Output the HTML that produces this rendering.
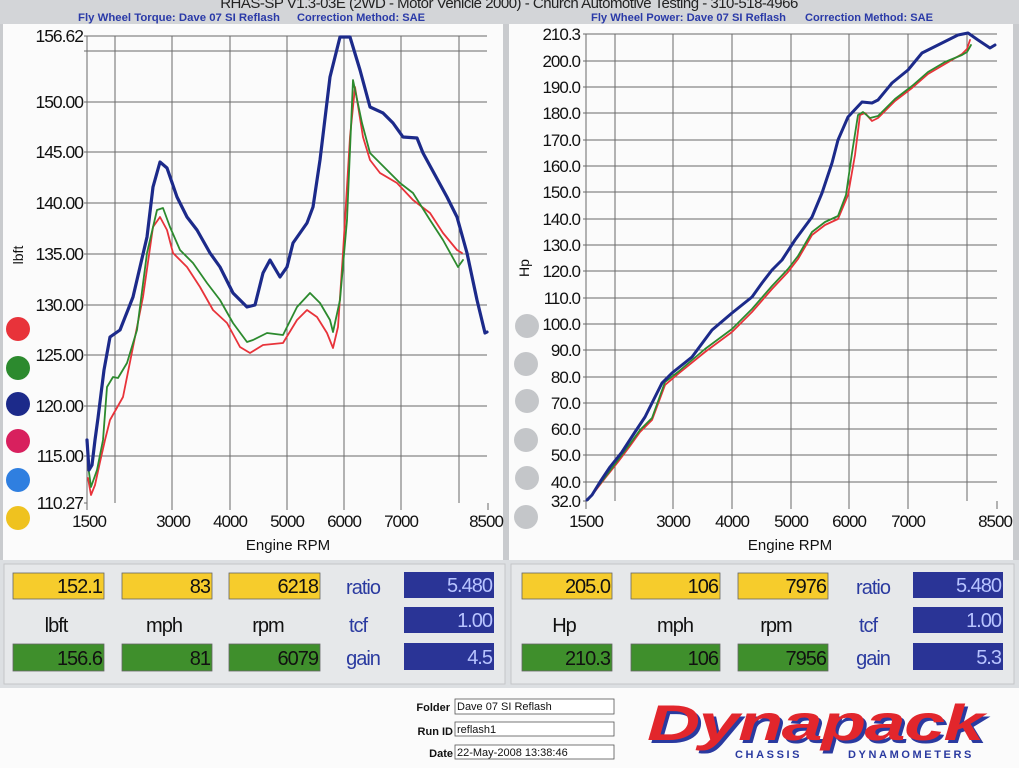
<!DOCTYPE html>
<html><head><meta charset="utf-8"><style>
html,body{margin:0;padding:0;background:#fff;}
svg{display:block;font-family:"Liberation Sans",Arial,sans-serif;}
</style></head><body>
<svg width="1019" height="768" viewBox="0 0 1019 768" xmlns="http://www.w3.org/2000/svg">
<rect x="0" y="0" width="1019" height="768" fill="#fdfdfd"/>
<!-- header band -->
<rect x="0" y="0" width="1019" height="24" fill="#d3d5d8"/>
<text x="509" y="8" font-size="15" text-anchor="middle" fill="#222" letter-spacing="-0.5">RHAS-SP V1.3-03E  (2WD - Motor Vehicle 2000) - Church Automotive Testing - 310-518-4966</text>
<g font-size="11" font-weight="bold" fill="#2a3aa8">
<text x="78" y="21" textLength="202" lengthAdjust="spacingAndGlyphs">Fly Wheel Torque: Dave 07 SI Reflash</text>
<text x="297" y="21" textLength="128" lengthAdjust="spacingAndGlyphs">Correction Method: SAE</text>
<text x="591" y="21" textLength="195" lengthAdjust="spacingAndGlyphs">Fly Wheel Power: Dave 07 SI Reflash</text>
<text x="805" y="21" textLength="128" lengthAdjust="spacingAndGlyphs">Correction Method: SAE</text>
</g>
<!-- panel frames -->
<rect x="0" y="24" width="3" height="536" fill="#c9cbce"/>
<rect x="503" y="24" width="6" height="536" fill="#c9cbce"/>
<rect x="1013" y="24" width="6" height="536" fill="#c9cbce"/>
<rect x="3" y="24" width="500" height="536" fill="#fbfbfb"/>
<rect x="509" y="24" width="504" height="536" fill="#fbfbfb"/>

<!-- LEFT GRID -->
<g stroke="#6a6a6a" stroke-width="1" fill="none">
<path d="M87,36V503 M115,36V503 M172,36V503 M230,36V503 M287,36V503 M344,36V503 M401,36V503 M459,36V503"/>
<path d="M84,36H487 M84,51H487 M84,102H487 M84,152H487 M84,203H487 M84,254H487 M84,305H487 M84,355H487 M84,406H487 M84,456H487 M84,503H87"/>
<path d="M87,503V510 M172,503V510 M230,503V510 M287,503V510 M344,503V510 M401,503V510 M488,503V510"/>
</g>
<g font-size="17.5" text-anchor="end" fill="#111" letter-spacing="-1">
<text x="83" y="42">156.62</text><text x="83" y="108">150.00</text><text x="83" y="158">145.00</text>
<text x="83" y="209">140.00</text><text x="83" y="260">135.00</text><text x="83" y="311">130.00</text>
<text x="83" y="361">125.00</text><text x="83" y="412">120.00</text><text x="83" y="462">115.00</text>
<text x="83" y="509">110.27</text>
</g>
<g font-size="17" text-anchor="middle" fill="#111" letter-spacing="-1">
<text x="89" y="527">1500</text><text x="173" y="527">3000</text><text x="230" y="527">4000</text>
<text x="287" y="527">5000</text><text x="344" y="527">6000</text><text x="401" y="527">7000</text>
<text x="486" y="527">8500</text>
<text x="288" y="550" font-size="15" letter-spacing="0">Engine RPM</text>
</g>
<text transform="translate(23,255) rotate(-90)" font-size="14" text-anchor="middle" fill="#111">lbft</text>
<g>
<circle cx="18" cy="329" r="12" fill="#e8333a"/>
<circle cx="18" cy="368" r="12" fill="#2c8a2e"/>
<circle cx="18" cy="404" r="12" fill="#1c2a8a"/>
<circle cx="18" cy="441" r="12" fill="#d8205e"/>
<circle cx="18" cy="480" r="12" fill="#2f7fe0"/>
<circle cx="18" cy="518" r="12" fill="#efc21f"/>
</g>
<!-- left curves -->
<g fill="none" stroke-linejoin="round" stroke-linecap="round">
<polyline stroke="#e8333a" stroke-width="1.8" points="88,478 91,495 95,485 100,462 105,440 110,420 123,397 133,347 143,297 153,227 160,217 167,230 173,253 187,267 200,287 213,310 227,323 240,347 250,353 263,345 283,343 297,320 307,310 317,317 327,333 333,348 338,327 343,253 350,137 355,87 363,137 370,160 380,173 397,183 413,200 430,213 443,233 457,250 462,253"/>
<polyline stroke="#2c8a2e" stroke-width="1.8" points="88,465 91,487 97,470 103,440 107,387 113,377 118,378 127,363 137,330 147,253 157,210 163,208 170,227 180,250 193,263 207,283 220,300 233,323 247,342 253,340 267,333 283,335 297,307 310,293 320,303 330,320 333,332 340,300 347,220 353,80 362,123 370,153 387,170 400,183 413,193 430,220 443,240 458,267 463,260"/>
<polyline stroke="#1c2a8a" stroke-width="3.2" points="87,440 89,470 92,465 95,440 98,418 104,370 110,337 120,330 133,297 147,237 153,187 160,162 167,168 177,197 187,217 197,230 210,253 220,267 233,293 247,307 255,305 263,273 270,260 280,277 287,267 293,243 307,223 313,207 320,160 330,77 340,37 350,37 360,70 370,107 383,113 393,123 403,137 417,138 423,153 447,197 457,217 467,253 477,300 485,333 487,332"/>
</g>

<!-- RIGHT GRID -->
<g stroke="#6a6a6a" stroke-width="1" fill="none">
<path d="M586,34V501 M615,34V501 M673,34V501 M732,34V501 M791,34V501 M849,34V501 M908,34V501 M967,34V501"/>
<path d="M583,34H997 M583,61H997 M583,87H997 M583,113H997 M583,140H997 M583,166H997 M583,192H997 M583,219H997 M583,245H997 M583,271H997 M583,298H997 M583,324H997 M583,350H997 M583,377H997 M583,403H997 M583,429H997 M583,455H997 M583,482H997 M583,501H586"/>
<path d="M586,501V509 M673,501V509 M732,501V509 M791,501V509 M849,501V509 M908,501V509 M997,501V509"/>
</g>
<g font-size="17" text-anchor="end" fill="#111" letter-spacing="-1">
<text x="580" y="40">210.3</text><text x="580" y="67">200.0</text><text x="580" y="93">190.0</text>
<text x="580" y="119">180.0</text><text x="580" y="146">170.0</text><text x="580" y="172">160.0</text>
<text x="580" y="198">150.0</text><text x="580" y="225">140.0</text><text x="580" y="251">130.0</text>
<text x="580" y="277">120.0</text><text x="580" y="304">110.0</text><text x="580" y="330">100.0</text>
<text x="580" y="356">90.0</text><text x="580" y="383">80.0</text><text x="580" y="409">70.0</text>
<text x="580" y="435">60.0</text><text x="580" y="461">50.0</text><text x="580" y="488">40.0</text>
<text x="580" y="507">32.0</text>
</g>
<g font-size="17" text-anchor="middle" fill="#111" letter-spacing="-1">
<text x="586" y="527">1500</text><text x="673" y="527">3000</text><text x="732" y="527">4000</text>
<text x="791" y="527">5000</text><text x="849" y="527">6000</text><text x="908" y="527">7000</text>
<text x="995" y="527">8500</text>
<text x="790" y="550" font-size="15" letter-spacing="0">Engine RPM</text>
</g>
<text transform="translate(529,268) rotate(-90)" font-size="14" text-anchor="middle" fill="#111">Hp</text>
<g fill="#c4c6c9">
<circle cx="527" cy="326" r="12"/><circle cx="526" cy="364" r="12"/><circle cx="527" cy="401" r="12"/>
<circle cx="526" cy="440" r="12"/><circle cx="527" cy="478" r="12"/><circle cx="526" cy="517" r="12"/>
</g>
<g fill="none" stroke-linejoin="round" stroke-linecap="round">
<polyline stroke="#e8333a" stroke-width="1.8" points="588,500 596,490 606,477 618,462 630,446 640,432 652,420 665,385 678,374 705,352 732,332 752,312 772,289 788,272 798,259 812,235 825,225 838,219 848,195 855,155 860,115 865,113 872,121 878,118 895,101 912,88 928,74 945,64 962,54 967,49 970,40"/>
<polyline stroke="#2c8a2e" stroke-width="1.8" points="588,500 596,489 606,476 618,460 630,444 640,430 652,418 665,382 678,372 705,349 732,329 752,309 772,286 788,269 798,256 812,232 825,222 838,216 846,195 852,153 858,115 863,112 870,118 878,116 895,99 912,86 928,72 945,62 962,55 967,52 971,45"/>
<polyline stroke="#1c2a8a" stroke-width="3" points="587,500 592,495 600,482 610,467 622,452 635,432 645,417 662,383 672,373 692,357 712,330 732,313 752,297 762,283 772,270 782,260 795,240 812,217 822,193 832,163 838,140 848,117 862,102 872,103 878,100 892,83 908,70 922,53 938,45 958,35 968,33 978,40 990,48 995,45"/>
</g>

<!-- DATA PANEL -->
<rect x="0" y="560" width="1019" height="128" fill="#dcdfe2"/>
<rect x="4" y="564" width="501" height="120" fill="#e6e8ea" stroke="#c4c6c8"/>
<rect x="511" y="564" width="503" height="120" fill="#e6e8ea" stroke="#c4c6c8"/>
<g stroke="#666" stroke-width="0.8">
<rect x="13" y="573" width="91" height="26" fill="#f6cc2c"/>
<rect x="122" y="573" width="90" height="26" fill="#f6cc2c"/>
<rect x="229" y="573" width="91" height="26" fill="#f6cc2c"/>
<rect x="13" y="644" width="91" height="27" fill="#3f8f2c"/>
<rect x="122" y="644" width="90" height="27" fill="#3f8f2c"/>
<rect x="229" y="644" width="91" height="27" fill="#3f8f2c"/>
<rect x="522" y="573" width="90" height="26" fill="#f6cc2c"/>
<rect x="631" y="573" width="89" height="26" fill="#f6cc2c"/>
<rect x="738" y="573" width="90" height="26" fill="#f6cc2c"/>
<rect x="522" y="644" width="90" height="27" fill="#3f8f2c"/>
<rect x="631" y="644" width="89" height="27" fill="#3f8f2c"/>
<rect x="738" y="644" width="90" height="27" fill="#3f8f2c"/>
</g>
<g fill="#2a3496">
<rect x="404" y="572" width="90" height="26"/><rect x="404" y="607" width="90" height="26"/><rect x="404" y="643" width="90" height="27"/>
<rect x="913" y="572" width="90" height="26"/><rect x="913" y="607" width="90" height="26"/><rect x="913" y="643" width="90" height="27"/>
</g>
<g font-size="20" text-anchor="end" fill="#111" letter-spacing="-1">
<text x="102" y="593">152.1</text><text x="210" y="593">83</text><text x="318" y="593">6218</text>
<text x="102" y="665">156.6</text><text x="210" y="665">81</text><text x="318" y="665">6079</text>
<text x="610" y="593">205.0</text><text x="718" y="593">106</text><text x="826" y="593">7976</text>
<text x="610" y="665">210.3</text><text x="718" y="665">106</text><text x="826" y="665">7956</text>
</g>
<g font-size="20" text-anchor="end" fill="#b8c4ff" letter-spacing="-1">
<text x="492" y="592">5.480</text><text x="492" y="627">1.00</text><text x="492" y="664">4.5</text>
<text x="1001" y="592">5.480</text><text x="1001" y="627">1.00</text><text x="1001" y="664">5.3</text>
</g>
<g font-size="20" text-anchor="middle" fill="#111" letter-spacing="-1">
<text x="56" y="632">lbft</text><text x="164" y="632">mph</text><text x="268" y="632">rpm</text>
<text x="564" y="632">Hp</text><text x="675" y="632">mph</text><text x="776" y="632">rpm</text>
</g>
<g font-size="20" text-anchor="middle" fill="#2a3aa0" letter-spacing="-1">
<text x="363" y="594">ratio</text><text x="358" y="632">tcf</text><text x="363" y="665">gain</text>
<text x="873" y="594">ratio</text><text x="868" y="632">tcf</text><text x="873" y="665">gain</text>
</g>

<!-- footer -->
<rect x="0" y="688" width="1019" height="80" fill="#fbfbfb"/>
<g font-size="11" font-weight="bold" text-anchor="end" fill="#111">
<text x="450" y="711">Folder</text><text x="453" y="735">Run ID</text><text x="453" y="757">Date</text>
</g>
<g stroke="#555" stroke-width="0.8" fill="#fff">
<rect x="455" y="699" width="159" height="15"/><rect x="455" y="722" width="159" height="14"/><rect x="455" y="745" width="159" height="14"/>
</g>
<g font-size="11" fill="#111">
<text x="457" y="710">Dave 07 SI Reflash</text><text x="457" y="733">reflash1</text><text x="457" y="756">22-May-2008  13:38:46</text>
</g>
<text x="650" y="743" font-size="50" font-weight="bold" font-style="italic" fill="#2a3aa0" letter-spacing="-1" textLength="336" lengthAdjust="spacingAndGlyphs">Dynapack</text>
<text x="647" y="740" font-size="50" font-weight="bold" font-style="italic" fill="#e2262c" letter-spacing="-1" textLength="336" lengthAdjust="spacingAndGlyphs">Dynapack</text>
<text x="735" y="758" font-size="11" font-weight="bold" fill="#2a3aa0" letter-spacing="2.6">CHASSIS</text>
<text x="848" y="758" font-size="11" font-weight="bold" fill="#2a3aa0" letter-spacing="2.6">DYNAMOMETERS</text>
</svg>
</body></html>
